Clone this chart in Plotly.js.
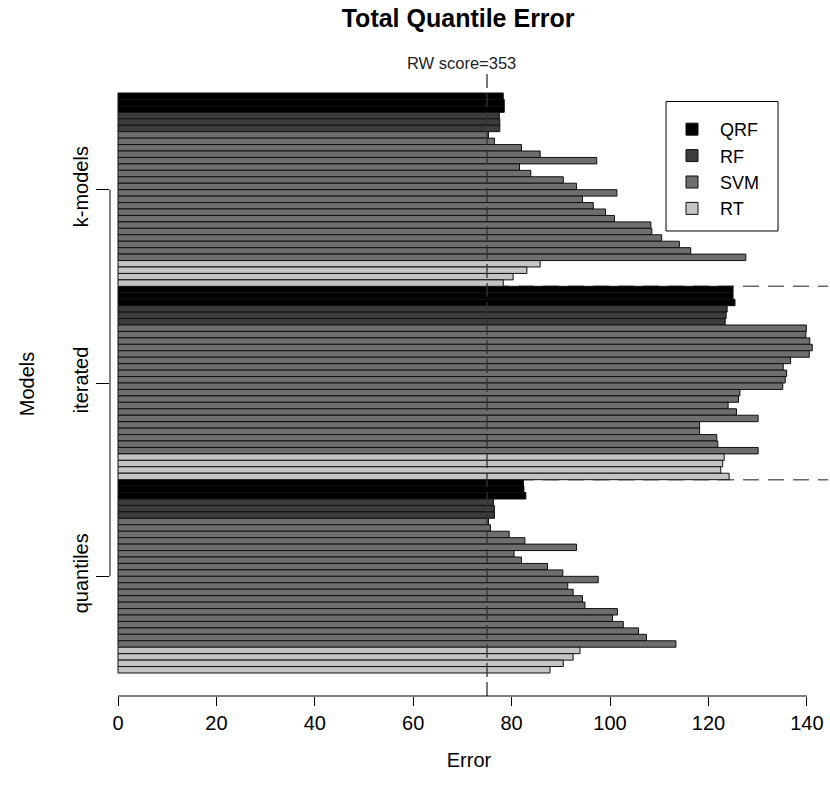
<!DOCTYPE html>
<html>
<head>
<meta charset="utf-8">
<script src="https://cdn.plot.ly/plotly-3.0.1.min.js"></script>
<style>html,body{margin:0;padding:0;background:#fff;}#chart{width:830px;height:800px;}</style>
</head>
<body>
<div id="chart"></div>
<script>
// Group names, bottom to top
const groups = ["quantiles", "iterated", "k-models"];
const models = ["QRF", "RF", "SVM", "RT"];
const modelColors = ["#000000", "#3c3c3c", "#6e6e6e", "#c4c4c4"];

// Values listed top-to-bottom inside each group
const quantiles_QRF = [82.4, 82.5, 82.9];
const quantiles_RF  = [76.3, 76.5, 76.5];
const quantiles_SVM = [75.3, 75.7, 79.5, 82.7, 93.2, 80.5, 82.0, 87.3, 90.4, 97.6,
                       91.4, 92.5, 94.4, 94.9, 101.5, 100.5, 102.7, 105.8, 107.4, 113.4];
const quantiles_RT  = [93.9, 92.5, 90.5, 87.8];

const iterated_QRF = [125.0, 125.0, 125.4];
const iterated_RF  = [123.8, 123.6, 123.4];
const iterated_SVM = [139.9, 139.8, 140.6, 141.1, 140.5, 136.7, 135.2, 135.9, 135.6, 135.1,
                      126.4, 126.1, 124.0, 125.7, 130.1, 118.2, 118.2, 121.7, 121.9, 130.1];
const iterated_RT  = [123.2, 122.9, 122.5, 124.2];

const kmodels_QRF = [78.3, 78.5, 78.5];
const kmodels_RF  = [77.5, 77.6, 77.6];
const kmodels_SVM = [75.3, 76.5, 82.0, 85.8, 97.3, 81.6, 83.9, 90.5, 93.2, 101.4,
                     94.4, 96.6, 99.1, 100.9, 108.3, 108.5, 110.5, 114.1, 116.4, 127.6];
const kmodels_RT  = [85.8, 83.1, 80.3, 78.3];

const rwScore = 75;
const rwLabel = "RW score=353";
const xTicks = [0, 20, 40, 60, 80, 100, 120, 140];

const groupData = [
  [quantiles_QRF, quantiles_RF, quantiles_SVM, quantiles_RT],
  [iterated_QRF, iterated_RF, iterated_SVM, iterated_RT],
  [kmodels_QRF, kmodels_RF, kmodels_SVM, kmodels_RT]
];

const traces = models.map((m, mi) => ({ type: "bar", orientation: "h", name: m, x: [], y: [],
  marker: { color: modelColors[mi], line: { color: "#111", width: 1 } },
  width: 1, hoverinfo: "x+name" }));

let offset = 0;
const groupCenters = [];
const groupBounds = [];
groupData.forEach(g => {
  const n = g.reduce((s, a) => s + a.length, 0);
  let j = 0;
  g.forEach((arr, mi) => {
    arr.forEach(v => {
      traces[mi].x.push(v);
      traces[mi].y.push(offset + (n - 1 - j));
      j++;
    });
  });
  groupCenters.push(offset + (n - 1) / 2);
  offset += n;
  groupBounds.push(offset - 0.5);
});

const FONT = "Liberation Sans, Arial, Helvetica, sans-serif";

const shapes = [
  // group separators (behind the bars)
  ...groupBounds.slice(0, -1).map(b => ({ type: "line", xref: "x", yref: "y", x0: 0, x1: 144.3, y0: b, y1: b,
    line: { color: "#666", width: 1.5, dash: "16px,9px" }, layer: "below" })),
  // RW vertical reference line
  { type: "line", xref: "x", yref: "paper", x0: rwScore, x1: rwScore, y0: 0, y1: 1,
    line: { color: "#333", width: 1.3, dash: "14px,5px" }, layer: "above" },
  // y-axis line between first and last tick
  { type: "line", xref: "paper", yref: "y", x0: 0, x1: 0, y0: groupCenters[0], y1: groupCenters[groupCenters.length - 1],
    line: { color: "#000", width: 1 } },
  // x-axis line from first to last tick
  { type: "line", xref: "x", yref: "paper", x0: xTicks[0], x1: xTicks[xTicks.length - 1], y0: 0, y1: 0,
    line: { color: "#000", width: 1 } },
  // legend box
  { type: "rect", xref: "paper", yref: "paper", x0: 0.7744, x1: 0.9304, y0: 0.7452, y1: 0.9527,
    line: { color: "#000", width: 1 }, fillcolor: "rgba(255,255,255,0)", layer: "above" }
];

const layout = {
  width: 830, height: 800,
  margin: { l: 110, r: 2, t: 72, b: 104 },
  paper_bgcolor: "#fff", plot_bgcolor: "#fff",
  font: { family: FONT, size: 20, color: "#000" },
  title: { text: "Total Quantile Error", font: { size: 25, weight: "bold", family: FONT },
    xref: "container", x: 0.552, xanchor: "center", yref: "container", y: 0.977, yanchor: "middle" },
  barmode: "overlay", bargap: 0,
  showlegend: true,
  legend: { x: 0.7716, xanchor: "left", y: 0.9375, yanchor: "top", traceorder: "normal", itemwidth: 46,
    bgcolor: "rgba(0,0,0,0)", borderwidth: 0, font: { size: 18, family: FONT } },
  xaxis: { range: [-1.626, 144.3], tickvals: xTicks, ticks: "outside", ticklen: 9, tickcolor: "#000",
    showline: false, showgrid: false, zeroline: false, tickfont: { size: 20 },
    title: { text: "Error", font: { size: 20 }, standoff: 19 } },
  yaxis: { range: [-4.07, 92.76], tickvals: groupCenters, ticktext: groups, tickangle: -90,
    ticks: "outside", ticklen: 13, tickcolor: "#000", showline: false, showgrid: false, zeroline: false,
    tickfont: { size: 20 }, title: { text: "Models", font: { size: 20 }, standoff: 30 } },
  shapes: shapes,
  annotations: [
    { text: rwLabel, xref: "x", yref: "paper", x: rwScore, y: 1, xanchor: "center", yanchor: "bottom",
      xshift: -26, yshift: -2, showarrow: false, font: { size: 16.5, family: FONT, color: "#222" } }
  ]
};

Plotly.newPlot("chart", traces, layout, { displayModeBar: false, staticPlot: true });
</script>
</body>
</html>
